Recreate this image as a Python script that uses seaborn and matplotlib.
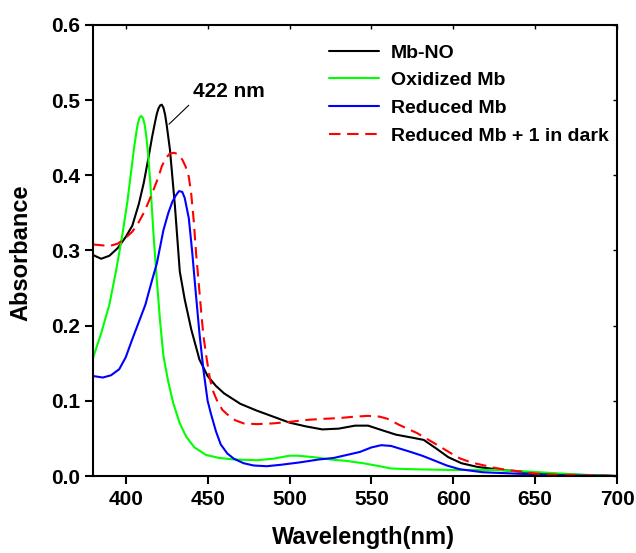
import numpy as np
import pandas as pd
import matplotlib
matplotlib.use("Agg")
import matplotlib.pyplot as plt
import seaborn as sns

# ---- data ----
wl_mbno = [380, 385, 390, 395, 400, 404, 408, 411, 414, 416, 418, 419, 420, 421, 422, 423, 424,
           425, 427, 430, 433, 436, 440, 445, 450, 455, 460, 465, 470, 480, 490, 500, 510, 520,
           530, 540, 548, 555, 565, 575, 582, 590, 597, 605, 615, 630, 650, 670, 700]
abs_mbno = [0.294, 0.289, 0.293, 0.303, 0.318, 0.333, 0.362, 0.390, 0.425, 0.450, 0.472, 0.482,
            0.489, 0.493, 0.494, 0.490, 0.481, 0.467, 0.434, 0.360, 0.272, 0.235, 0.195, 0.155,
            0.133, 0.120, 0.110, 0.103, 0.096, 0.087, 0.079, 0.071, 0.066, 0.062, 0.063, 0.067,
            0.067, 0.062, 0.055, 0.051, 0.048, 0.036, 0.025, 0.017, 0.012, 0.008, 0.004, 0.002, 0.0]

wl_ox = [380, 385, 390, 394, 398, 401, 403, 405, 406.5, 407.5, 408.5, 409.5, 410.5, 411.5, 412.5,
         413.5, 415, 417, 419, 421, 423, 426, 429, 433, 437, 442, 449, 457, 466, 480, 490, 500,
         505, 515, 525, 535, 545, 555, 562, 575, 600, 625, 645, 660, 675, 700]
abs_ox = [0.157, 0.190, 0.228, 0.272, 0.322, 0.365, 0.400, 0.435, 0.458, 0.470, 0.477, 0.479,
          0.476, 0.468, 0.453, 0.432, 0.390, 0.320, 0.260, 0.205, 0.160, 0.125, 0.097, 0.070,
          0.052, 0.038, 0.028, 0.024, 0.022, 0.021, 0.023, 0.027, 0.027, 0.025, 0.022, 0.020,
          0.017, 0.013, 0.010, 0.009, 0.008, 0.008, 0.006, 0.004, 0.002, 0.0]

wl_red = [380, 386, 391, 396, 400, 404, 408, 412, 416, 419, 423, 426, 428.5, 430.5, 432.5, 434.5,
          436, 438.5, 440.5, 442.5, 445, 447.5, 450, 452, 455, 458, 462, 466, 472, 478, 486, 495,
          506, 518, 527, 535, 543, 550, 556, 562, 568, 574, 581, 588, 596, 604, 618, 640, 665, 700]
abs_red = [0.133, 0.131, 0.134, 0.142, 0.158, 0.182, 0.205, 0.228, 0.260, 0.283, 0.327, 0.350,
           0.365, 0.373, 0.379, 0.378, 0.370, 0.343, 0.300, 0.250, 0.190, 0.140, 0.100, 0.083,
           0.060, 0.042, 0.030, 0.023, 0.017, 0.014, 0.013, 0.015, 0.018, 0.022, 0.024, 0.028,
           0.032, 0.038, 0.041, 0.040, 0.036, 0.032, 0.027, 0.021, 0.014, 0.009, 0.005, 0.003,
           0.001, 0.0]

wl_dark = [380, 385, 390, 395, 399, 404, 408, 411, 414, 417, 420, 422, 424.5, 427, 429.5, 432,
           434.5, 436.5, 438.5, 440, 441.5, 443, 444.5, 446, 447.5, 449.5, 451.5, 453.5, 456,
           459, 462, 467, 472, 480, 490, 500, 510, 520, 530, 540, 548, 555, 560, 567, 572, 578,
           585, 592, 598, 604, 611, 618, 625, 633, 641, 649, 660, 680, 700]
abs_dark = [0.308, 0.307, 0.306, 0.309, 0.315, 0.325, 0.338, 0.350, 0.365, 0.381, 0.398, 0.412,
            0.423, 0.429, 0.430, 0.428, 0.421, 0.412, 0.398, 0.375, 0.340, 0.295, 0.258, 0.220,
            0.185, 0.155, 0.128, 0.112, 0.099, 0.088, 0.082, 0.074, 0.070, 0.069, 0.070, 0.072,
            0.0745, 0.076, 0.077, 0.079, 0.080, 0.079, 0.076, 0.068, 0.063, 0.057, 0.048, 0.039,
            0.031, 0.0235, 0.018, 0.0145, 0.011, 0.008, 0.006, 0.0035, 0.002, 0.001, 0.0]

series_names = ["Mb-NO", "Oxidized Mb", "Reduced Mb", "Reduced Mb + 1 in dark"]
series_colors = ["#000000", "#00FF00", "#0000FF", "#FF0000"]
x_ticks = [400, 450, 500, 550, 600, 650, 700]
y_ticks = [0.0, 0.1, 0.2, 0.3, 0.4, 0.5, 0.6]
peak_label = "422 nm"

# ---- build long table ----
frames = []
for name, xs, ys in zip(series_names,
                        [wl_mbno, wl_ox, wl_red, wl_dark],
                        [abs_mbno, abs_ox, abs_red, abs_dark]):
    frames.append(pd.DataFrame({"Wavelength": xs, "Absorbance": ys, "Sample": name}))
df = pd.concat(frames, ignore_index=True)

sns.set_style("ticks")
plt.rcParams["font.family"] = ["Liberation Sans", "DejaVu Sans"]
plt.rcParams["font.weight"] = "bold"
plt.rcParams["axes.labelweight"] = "bold"
plt.rcParams["text.color"] = "black"
plt.rcParams["axes.labelcolor"] = "black"
plt.rcParams["xtick.color"] = "black"
plt.rcParams["ytick.color"] = "black"
plt.rcParams["axes.edgecolor"] = "black"

fig = plt.figure(figsize=(6.36, 5.53), dpi=100)
ax = fig.add_axes([93 / 636, 1 - 476 / 553, 524 / 636, 451 / 553])

sns.lineplot(data=df, x="Wavelength", y="Absorbance", hue="Sample", style="Sample",
             hue_order=series_names, style_order=series_names,
             palette=dict(zip(series_names, series_colors)),
             dashes={series_names[0]: "", series_names[1]: "",
                     series_names[2]: "", series_names[3]: (5.5, 3.2)},
             linewidth=1.5, ax=ax, sort=True, estimator=None)

ax.set_xlim(380, 700)
ax.set_ylim(0, 0.6)
ax.set_xticks(x_ticks)
ax.set_yticks(y_ticks)
ax.set_xticklabels([str(v) for v in x_ticks])
ax.set_yticklabels([f"{v:.1f}" for v in y_ticks])

for sp in ax.spines.values():
    sp.set_visible(True)
    sp.set_linewidth(1.5)
    sp.set_color("black")

ax.tick_params(axis="both", which="major", direction="out", length=6, width=1.5,
               labelsize=15, colors="black", labelcolor="black")
ax.tick_params(axis="x", pad=4)
ax.tick_params(axis="y", pad=3.5)
for lab in ax.get_xticklabels() + ax.get_yticklabels():
    lab.set_fontweight("bold")
    lab.set_color("black")

# inward ticks on top and right
top = ax.secondary_xaxis("top")
top.set_xticks(x_ticks)
top.tick_params(direction="in", length=3, width=1.0, labeltop=False, colors="black")
top.spines["top"].set_visible(False)
right = ax.secondary_yaxis("right")
right.set_yticks(y_ticks)
right.tick_params(direction="in", length=3, width=1.0, labelright=False, colors="black")
right.spines["right"].set_visible(False)

ax.set_xlabel("Wavelength(nm)", fontsize=17, fontweight="bold", color="black")
ax.set_ylabel("Absorbance", fontsize=17, fontweight="bold", color="black")
ax.xaxis.set_label_coords(0.517, -0.111)
ax.yaxis.set_label_coords(-0.115, 0.495)
ax.xaxis.label.set_va("top")

ax.annotate(peak_label, xy=(426.4, 0.468), xytext=(441.1, 0.504),
            fontsize=15, fontweight="bold", ha="left", va="baseline", color="black",
            arrowprops=dict(arrowstyle="-", color="black", lw=0.8,
                            shrinkA=1, shrinkB=0, relpos=(0, 0)))

handles, labels = ax.get_legend_handles_labels()
leg = ax.legend(handles, labels, loc="upper left", bbox_to_anchor=(0.45, 0.958),
                frameon=False, borderpad=0, borderaxespad=0,
                handlelength=2.6, handletextpad=0.6, labelspacing=0.52,
                prop={"weight": "bold", "size": 14})
for t in leg.get_texts():
    t.set_color("black")
for h in leg.get_lines():
    h.set_linewidth(1.5)

fig.savefig("out.png", dpi=100)
